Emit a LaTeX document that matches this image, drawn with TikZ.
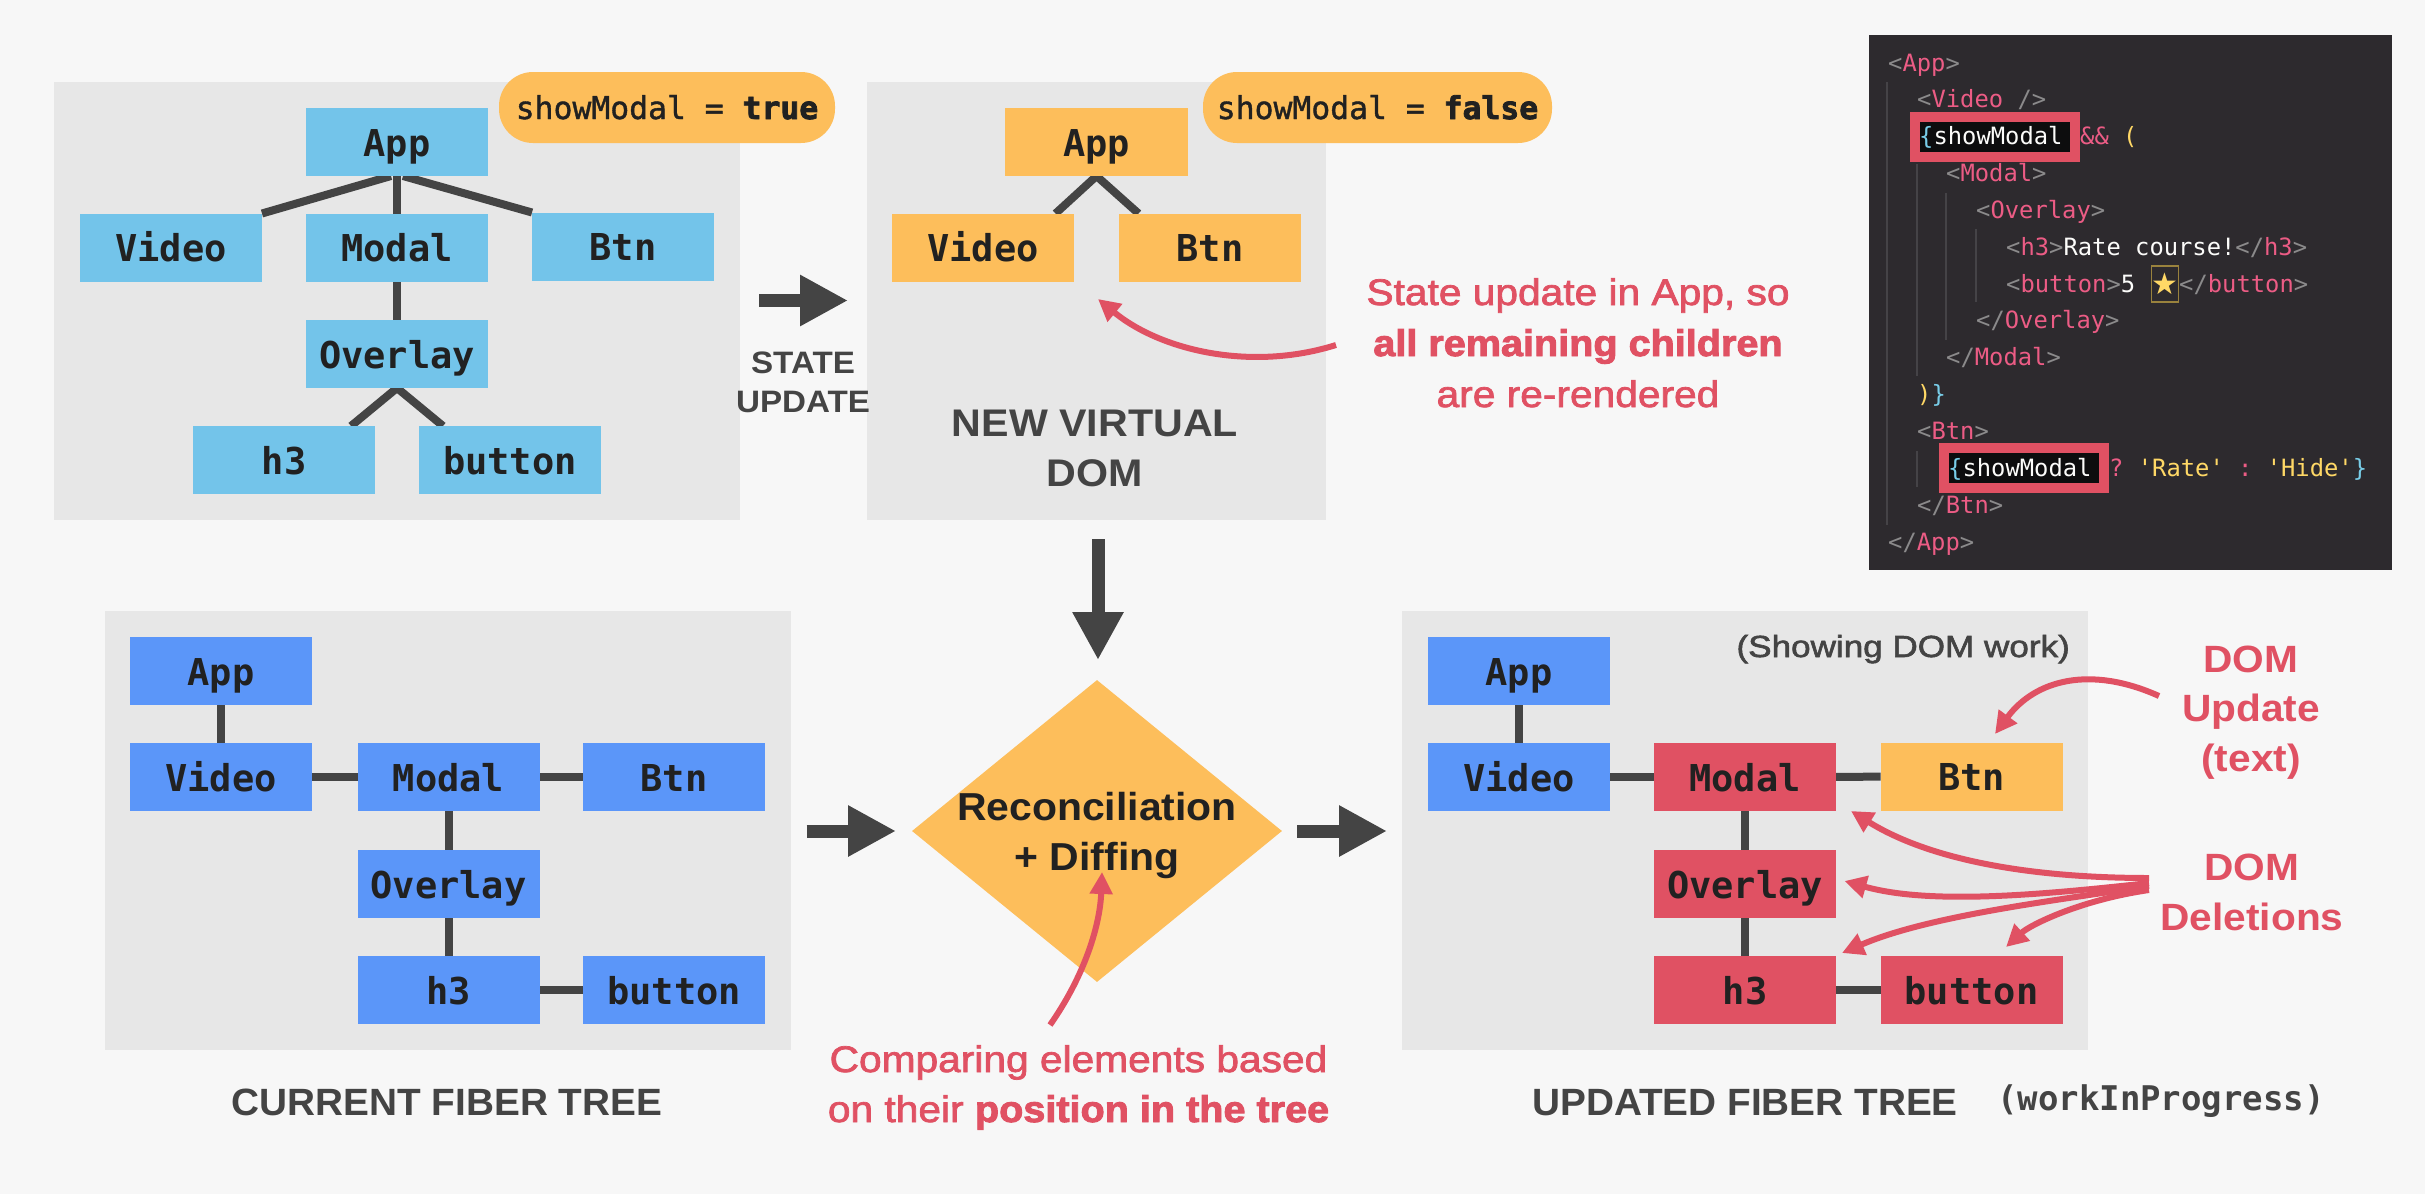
\documentclass[tikz,border=0pt]{standalone}
\usepackage{fontspec}
\usetikzlibrary{arrows.meta,shapes.geometric,backgrounds}
\setmainfont{Liberation Sans}
\newfontfamily\semib[FakeStretch=1.10,FakeBold=2]{Liberation Sans}
\newfontfamily\showf[FakeStretch=1.15,FakeBold=2]{Liberation Sans}
\newfontfamily\headb[FakeStretch=1.02]{Liberation Sans Bold}
\newfontfamily\diam[FakeStretch=1.05]{Liberation Sans Bold}
\newfontfamily\boldb[FakeStretch=1.07]{Liberation Sans Bold}
\newfontfamily\boldx[FakeStretch=1.07,FakeBold=2.5]{Liberation Sans Bold}
\setmonofont{DejaVu Sans Mono}
\newfontfamily\monob{DejaVu Sans Mono Bold}
\newfontfamily\monox[FakeBold=2.5]{DejaVu Sans Mono Bold}
\newfontfamily\monom[FakeBold=1.2]{DejaVu Sans Mono}
\newfontfamily\symf{DejaVu Sans}
\definecolor{bgc}{HTML}{F7F7F7}
\definecolor{panelc}{HTML}{E7E7E7}
\definecolor{skyc}{HTML}{73C4EA}
\definecolor{bluec}{HTML}{5B96F9}
\definecolor{orangec}{HTML}{FDBE5B}
\definecolor{redc}{HTML}{E05163}
\definecolor{darkc}{HTML}{444444}
\definecolor{inkc}{HTML}{212121}
\definecolor{codebg}{HTML}{2D2A2E}
\definecolor{cpink}{HTML}{EC5C85}
\definecolor{cgray}{HTML}{8B8A8B}
\definecolor{cblue}{HTML}{78CDE8}
\definecolor{cyel}{HTML}{FFD866}
\definecolor{cwhite}{HTML}{FCFCFA}
\definecolor{cguide}{HTML}{454347}
\pgfdeclarelayer{lines}
\pgfdeclarelayer{back}
\pgfsetlayers{back,lines,main}
\newcommand{\tg}[1]{\textcolor{cgray}{#1}}
\newcommand{\tp}[1]{\textcolor{cpink}{#1}}
\newcommand{\tw}[1]{\textcolor{cwhite}{#1}}
\newcommand{\tb}[1]{\textcolor{cblue}{#1}}
\newcommand{\ty}[1]{\textcolor{cyel}{#1}}
\tikzset{
 treebox/.style={minimum width=182pt,minimum height=68pt,inner sep=0pt,outer sep=0pt,text=inkc,
   text height=48pt,text depth=20pt,font=\monob\fontsize{37}{37}\selectfont},
 sky/.style={treebox,fill=skyc},
 blu/.style={treebox,fill=bluec},
 ora/.style={treebox,fill=orangec},
 rdb/.style={treebox,fill=redc},
 link/.style={draw=darkc,line width=8pt},
 bigarrow/.style={draw=darkc,line width=13pt,-{Triangle[length=48pt,width=48pt,fill=darkc]}},
 redarrow/.style={draw=redc,line width=6pt,-{Triangle[length=22pt,width=22pt,fill=redc]}},
 pill/.style={fill=orangec,rounded corners=34pt,minimum height=71pt,inner sep=0pt,text=inkc,
   text height=47pt,text depth=24pt,font=\monom\fontsize{31.4}{31.4}\selectfont},
 heading/.style={text=darkc,inner sep=0pt,anchor=base,font=\headb\fontsize{38}{50}\selectfont},
 note/.style={text=redc,inner sep=0pt,align=center,font=\semib\fontsize{37}{51}\selectfont},
 code/.style={anchor=base west,inner sep=0pt,font=\ttfamily\fontsize{23.8}{23.8}\selectfont},
 hilite/.style={draw=redc,line width=10pt,fill=black!70!codebg},
 guide/.style={draw=cguide,line width=1.2pt},
}
\begin{document}
\begin{tikzpicture}[x=1pt,y=-1pt]
\useasboundingbox (0,0) rectangle (2425,1194);
\begin{pgfonlayer}{back}
\fill[bgc] (0,0) rectangle (2425,1194);
\fill[panelc] (54,82) rectangle (740,520);
\fill[panelc] (867,82) rectangle (1326,520);
\fill[panelc] (105,611) rectangle (791,1050);
\fill[panelc] (1402,611) rectangle (2088,1050);
\end{pgfonlayer}
% tree 1
\node[sky] (a1) at (397,142) {App};
\node[sky] (v1) at (171,247.5) {Video};
\node[sky] (m1) at (397,247.5) {Modal};
\node[sky] (b1) at (623,246.5) {Btn};
\node[sky] (o1) at (397,354) {Overlay};
\node[sky] (h1) at (284,460) {h3};
\node[sky] (u1) at (510,460) {button};
\node[pill,minimum width=336pt] (p1) at (667,107.5) {showModal = {\monox true}};
\begin{pgfonlayer}{lines}
\draw[link] (a1.south) -- (m1.north);
\draw[link] (m1.south) -- (o1.north);
\draw[link] ([xshift=-6pt]a1.south) -- (v1.north east);
\draw[link] ([xshift=6pt]a1.south) -- (b1.north west);
\draw[link] (o1.south) -- ([xshift=-46pt]o1.south |- h1.north);
\draw[link] (o1.south) -- ([xshift=46pt]o1.south |- u1.north);
\end{pgfonlayer}
% tree 2
\node[ora,minimum width=183pt] (a2) at (1096.5,142) {App};
\node[ora] (v2) at (983,247.5) {Video};
\node[ora] (b2) at (1210,247.5) {Btn};
\node[pill,minimum width=349pt] (p2) at (1377.5,107.5) {showModal = {\monox false}};
\begin{pgfonlayer}{lines}
\draw[link] (a2.south) -- ([xshift=-41pt]a2.south |- v2.north);
\draw[link] (a2.south) -- ([xshift=42pt]a2.south |- b2.north);
\end{pgfonlayer}
% top labels
\coordinate (s1) at (759,300.5);
\coordinate (s2) at (848,300.5);
\draw[bigarrow] (s1) -- (s2);
\node[heading,align=center,font=\boldb\fontsize{31}{39}\selectfont] (lstate) at (803,412) {STATE\\UPDATE};
\node[heading,align=center,font=\boldb\fontsize{38.5}{50}\selectfont] (lnew) at (1095,486) {NEW VIRTUAL\\DOM};
\node[note,anchor=base] (nstate) at (1578,407) {State update in App, so\\{\boldx all remaining children}\\are re-rendered};
\coordinate (ns) at (1336,345);
\coordinate (nt) at (1098,299);
\draw[redarrow] (ns) .. controls (1250,372) and (1160,350) .. (nt);
% diamond
\node[diamond,aspect=1.225,fill=orangec,inner sep=0pt,minimum width=370pt,minimum height=302pt] (dd) at (1097,831) {};
\node[text=inkc,inner sep=0pt,align=center,anchor=base,font=\diam\fontsize{39}{50}\selectfont] (dt) at (1097,870) {Reconciliation\\+ Diffing};
\coordinate (d1) at (1098,539);
\coordinate (d2) at (1098,660);
\draw[bigarrow] (d1) -- (d2);
\coordinate (e1) at (806.5,831);
\coordinate (e2) at (896,831);
\draw[bigarrow] (e1) -- (e2);
\coordinate (f1) at (1297,831);
\coordinate (f2) at (1387,831);
\draw[bigarrow] (f1) -- (f2);
\node[note,anchor=base,font=\semib\fontsize{37}{50}\selectfont] (ncomp) at (1078.5,1122) {Comparing elements based\\on their {\boldx position in the tree}};
\coordinate (cs) at (1050,1025);
\coordinate (ct) at (1102,872);
\draw[redarrow] (cs) .. controls (1085,975) and (1100,925) .. (ct);
% current fiber tree
\node[blu] (a3) at (221,671) {App};
\node[blu] (v3) at (221,777) {Video};
\node[blu] (m3) at (448.5,777) {Modal};
\node[blu] (b3) at (674,777) {Btn};
\node[blu] (o3) at (448.5,884) {Overlay};
\node[blu] (h3) at (448.5,990) {h3};
\node[blu] (u3) at (674,990) {button};
\begin{pgfonlayer}{lines}
\draw[link] (a3) -- (v3);
\draw[link] (v3) -- (m3);
\draw[link] (m3) -- (b3);
\draw[link] (m3) -- (o3);
\draw[link] (o3) -- (h3);
\draw[link] (h3) -- (u3);
\end{pgfonlayer}
\node[heading] (lcur) at (447,1115) {CURRENT FIBER TREE};
% updated fiber tree
\node[blu] (a4) at (1519,671) {App};
\node[blu] (v4) at (1519,777) {Video};
\node[rdb] (m4) at (1745,777) {Modal};
\node[ora] (b4) at (1971.5,776.5) {Btn};
\node[rdb] (o4) at (1745,884) {Overlay};
\node[rdb] (h4) at (1745,990) {h3};
\node[rdb] (u4) at (1971.5,990) {button};
\begin{pgfonlayer}{lines}
\draw[link] (a4) -- (v4);
\draw[link] (v4) -- (m4);
\draw[link] (m4) -- (b4);
\draw[link] (m4) -- (o4);
\draw[link] (o4) -- (h4);
\draw[link] (h4) -- (u4);
\end{pgfonlayer}
\node[heading] (lupd) at (1745,1115) {UPDATED FIBER TREE};
\node[anchor=base west,inner sep=0pt,text=darkc,font=\monob\fontsize{34}{34}\selectfont] (lwip) at (1997,1110) {(workInProgress)};
\node[anchor=base east,inner sep=0pt,text=darkc,font=\showf\fontsize{30.5}{30.5}\selectfont] (lshow) at (2070,657) {(Showing DOM work)};
% DOM notes
\node[note,anchor=base,font=\boldb\fontsize{38}{49.5}\selectfont] (nupd) at (2251,771) {DOM\\Update\\(text)};
\node[note,anchor=base,font=\boldb\fontsize{38}{50}\selectfont] (ndel) at (2252,930) {DOM\\Deletions};
\coordinate (us) at (2159,696);
\coordinate (ut) at (1995,734);
\draw[redarrow] (us) .. controls (2090,665) and (2035,680) .. (ut);
\coordinate (del1) at (2149,878);
\coordinate (del2) at (2149,883);
\coordinate (del3) at (2149,886);
\coordinate (del4) at (2149,890);
\coordinate (tm) at (1851,811);
\coordinate (to) at (1844.5,881);
\coordinate (th) at (1842,953);
\coordinate (tu) at (2006,947);
\draw[redarrow] (del1) .. controls (2030,878) and (1930,860) .. (tm);
\draw[redarrow] (del2) .. controls (2040,895) and (1930,905) .. (to);
\draw[redarrow] (del3) .. controls (2060,900) and (1930,915) .. (th);
\draw[redarrow] (del4) .. controls (2080,900) and (2030,925) .. (tu);
% code panel
\fill[codebg] (1869,35) rectangle (2392,570);
\foreach \xa/\ya/\yb in {1887/82/525,1917/164/376,1917/451/487,1946/193/340,1976/229/302}{
  \draw[guide] (\xa,\ya) -- (\xa,\yb);
}
\draw[hilite] (1915,117) rectangle (2075,157);
\draw[hilite] (1944,448) rectangle (2104,488);
\node[code] (c0) at (1888,71) {\tg{<}\tp{App}\tg{>}};
\node[code] (c1) at (1917,107.85) {\tg{<}\tp{Video}\ \tg{/>}};
\node[code] (c2) at (1919,144.7) {\tb{\{}\tw{showModal}};
\node[code] (c2b) at (2080,144.7) {\tp{\&\&}\ \ty{(}};
\node[code] (c3) at (1946,181.55) {\tg{<}\tp{Modal}\tg{>}};
\node[code] (c4) at (1976,218.4) {\tg{<}\tp{Overlay}\tg{>}};
\node[code] (c5) at (2006,255.25) {\tg{<}\tp{h3}\tg{>}\tw{Rate course!}\tg{</}\tp{h3}\tg{>}};
\node[code] (c6) at (2006,292.1) {\tg{<}\tp{button}\tg{>}\tw{5}};
\node[draw=cyel!60!black,line width=1.2pt,minimum width=24.5pt,minimum height=36pt,inner sep=0pt,text=cyel,font=\symf\fontsize{30}{30}\selectfont] (c6s) at (2164.7,284) {★};
\node[code] (c6b) at (2179,292.1) {\tg{</}\tp{button}\tg{>}};
\node[code] (c7) at (1976,328.95) {\tg{</}\tp{Overlay}\tg{>}};
\node[code] (c8) at (1946,365.8) {\tg{</}\tp{Modal}\tg{>}};
\node[code] (c9) at (1917,402.65) {\ty{)}\tb{\}}};
\node[code] (c10) at (1917,439.5) {\tg{<}\tp{Btn}\tg{>}};
\node[code] (c11) at (1948,476.35) {\tb{\{}\tw{showModal}};
\node[code] (c11b) at (2109,476.35) {\tp{?}\ \ty{'Rate'}\ \tp{:}\ \ty{'Hide'}\tb{\}}};
\node[code] (c12) at (1917,513.2) {\tg{</}\tp{Btn}\tg{>}};
\node[code] (c13) at (1888,550) {\tg{</}\tp{App}\tg{>}};
\end{tikzpicture}
\end{document}
